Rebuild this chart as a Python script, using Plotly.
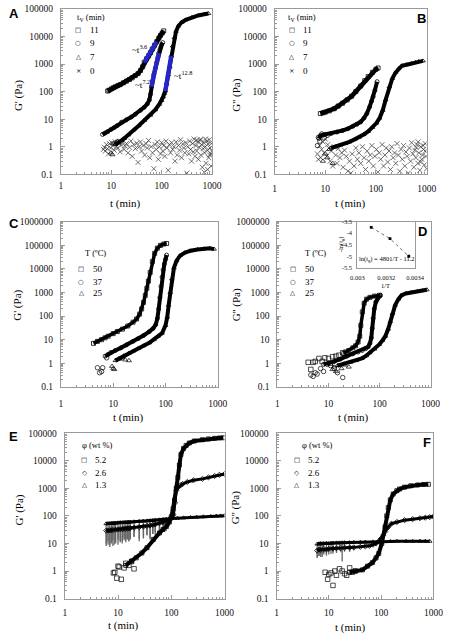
import plotly.graph_objects as go

W, H = 454, 639
SERIF = "Liberation Serif"
SANS = "Liberation Sans"
SYM = "DejaVu Sans"
GRAY = "#9a9a9a"
BLUE = "#2626c8"

# ---------------- tick labels ----------------
x_ticks = [1, 10, 100, 1000]
x_ticklabels = ["1", "10", "100", "1000"]
y_ticks = [0.1, 1, 10, 100, 1000, 10000, 100000, 1000000]
y_ticklabels = ["0.1", "1", "10", "100", "1000", "10000", "100000", "1000000"]

# ---------------- Panel A : G' vs t, tV series ----------------
A_legend = ["11", "9", "7", "0"]
A11_t = [8.5, 9, 10, 11, 12, 13.5, 15, 17.5, 20, 23, 26, 30, 34, 38, 42, 45, 50, 55, 60, 65, 72, 80, 88, 95, 103, 110]
A11_G = [105, 112, 125, 138, 150, 165, 180, 210, 240, 275, 315, 380, 450, 580, 800, 1150, 1550, 2000, 2600, 3500, 4800, 6500, 8800, 11000, 13500, 16000]
A9_t = [6.7, 7.5, 8.5, 10, 11.5, 13, 16, 20, 25, 30, 38, 45, 52, 57, 60, 63, 66, 70, 75, 80, 84, 88, 92, 96, 100, 105]
A9_G = [2.8, 3.1, 3.5, 4.3, 5.0, 5.8, 7.8, 9.5, 12, 15, 21, 27, 36, 50, 80, 150, 250, 420, 700, 1150, 1700, 2500, 3300, 4100, 5000, 6000]
A7_t = [12, 14, 16, 18, 22, 28, 35, 45, 60, 75, 90, 100, 107, 113, 118, 126, 135, 145, 155, 165, 178, 193, 215, 250, 300, 400, 535, 700, 850]
A7_G = [1.2, 1.4, 1.7, 2.0, 2.7, 4.1, 5.8, 9, 14, 22, 35, 48, 64, 85, 105, 200, 400, 800, 2000, 4500, 9000, 15500, 24000, 33000, 40000, 50000, 58000, 64000, 68000]
A7_pts_t = [9.8, 10.5, 11, 12.5, 13.5]
A7_pts_G = [0.6, 0.52, 1.3, 1.5, 1.6]
A0_t = [7, 7.3, 7.6, 8, 8.4, 8.8, 9.2, 9.7, 10.2, 10.8,
        11.4, 12, 12.7, 13.4, 14.2, 15, 16, 17, 18, 19,
        20, 21.5, 23, 24.5, 26, 28, 30, 32, 34, 36,
        38, 40, 43, 46, 49, 52, 55, 58, 62, 66,
        70, 74, 78, 82, 86, 90, 95, 100, 105, 110,
        116, 122, 128, 135, 142, 150, 158, 166, 175, 184,
        194, 204, 215, 226, 238, 250, 262, 275, 288, 302,
        316, 330, 345, 360, 376, 392, 408, 425, 442, 460,
        478, 497, 516, 536, 556, 577, 598, 620, 642, 665,
        688, 712, 736, 760, 785, 810, 836, 862, 889, 916,
        943, 970, 990, 740, 820, 900, 600, 700, 500, 960]
A0_G = [0.8, 0.95, 0.7, 1.2, 0.85, 0.55, 1.3, 0.9, 1.4, 1.1,
        0.75, 1.5, 1.0, 0.9, 1.3, 0.65, 1.15, 1.45, 0.8, 1.05,
        1.3, 0.6, 0.95, 1.6, 0.45, 1.2, 0.85, 1.35, 0.27, 1.0,
        1.5, 0.7, 1.1, 0.5, 1.3, 0.9, 1.7, 0.4, 1.0, 0.6,
        0.16, 1.2, 0.8, 1.5, 0.35, 1.0, 0.55, 1.4, 0.7, 1.1,
        0.45, 1.6, 0.9, 0.14, 1.2, 0.6, 1.4, 0.8, 1.0, 0.3,
        1.5, 0.5, 1.1, 0.75, 1.8, 0.4, 1.25, 0.9, 0.6, 1.4,
        0.11, 1.0, 0.55, 1.6, 0.8, 0.3, 1.3, 0.65, 1.9, 0.45,
        1.1, 0.7, 1.5, 0.35, 0.95, 1.7, 0.5, 1.2, 0.18, 0.85,
        1.4, 0.6, 1.0, 0.25, 1.6, 0.75, 1.25, 0.4, 1.8, 0.9,
        0.55, 1.3, 0.7, 1.9, 0.15, 0.5, 1.85, 0.12, 1.75, 0.2]
A_blue = {"11": (45, 80), "9": (63, 88), "7": (118, 155)}

# ---------------- Panel B : G'' vs t ----------------
B11_t = [8, 9, 10, 12, 15, 18, 22, 27, 33, 40, 50, 60, 70, 85, 100, 110]
B11_G = [16, 17, 18, 20, 24, 30, 38, 50, 68, 100, 160, 250, 350, 500, 650, 720]
B9_t = [7.5, 8, 9, 10, 13, 17, 22, 28, 35, 42, 50, 58, 66, 75, 82, 88, 95, 105]
B9_G = [2.0, 2.5, 2.7, 2.8, 3.0, 3.4, 3.9, 4.5, 5.5, 6.5, 8, 11, 16, 28, 45, 65, 110, 230]
B9_pts_t = [7, 7.3, 7.8, 8.5, 9.5, 11]
B9_pts_G = [1.1, 2.2, 1.6, 2.9, 2.1, 2.6]
B7_t = [13, 16, 20, 25, 30, 38, 46, 57, 70, 85, 102, 118, 136, 155, 183, 210, 245, 285, 325, 400, 500, 600, 700, 850]
B7_G = [0.9, 1.0, 1.15, 1.3, 1.5, 1.85, 2.2, 2.75, 3.6, 5, 7.2, 11, 21, 50, 150, 300, 500, 720, 870, 950, 1050, 1150, 1250, 1300]
B7_pts_t = [9, 10, 11, 12, 14]
B7_pts_G = [0.3, 0.55, 0.4, 0.8, 0.25]
B0_t = [7, 7.3, 7.7, 8.1, 8.5, 9, 9.5, 10, 10.6, 11.2,
        11.8, 12.5, 13.2, 14, 15, 16, 17, 18, 19.5, 21,
        22.5, 24, 26, 28, 30, 32, 34, 37, 40, 43,
        46, 50, 54, 58, 62, 67, 72, 77, 83, 89,
        95, 102, 109, 116, 124, 132, 141, 150, 160, 170,
        181, 193, 205, 218, 232, 246, 261, 277, 294, 312,
        330, 350, 370, 390, 412, 434, 457, 481, 506, 532,
        558, 585, 613, 642, 672, 702, 733, 765, 798, 832,
        866, 900, 935, 970, 995, 620, 680, 760, 850, 940]
B0_G = [0.55, 0.35, 1.1, 0.4, 0.8, 1.5, 0.6, 1.9, 0.45, 1.2,
        0.9, 0.3, 0.7, 0.2, 1.0, 0.5, 0.25, 0.85, 0.4, 0.6,
        0.18, 0.75, 0.45, 0.13, 0.3, 0.11, 0.55, 0.2, 0.9, 0.35,
        0.6, 0.25, 1.0, 0.4, 0.15, 0.7, 0.3, 0.5, 1.1, 0.2,
        0.45, 0.8, 0.12, 0.6, 0.35, 1.2, 0.2, 0.5, 0.9, 0.28,
        0.7, 0.15, 1.0, 0.4, 0.6, 0.25, 1.3, 0.5, 0.13, 0.8,
        0.35, 1.1, 0.2, 0.65, 0.45, 0.11, 0.9, 0.3, 1.4, 0.55,
        0.18, 0.75, 0.4, 1.2, 0.25, 0.6, 0.14, 1.0, 0.35, 0.5,
        0.8, 0.22, 1.3, 0.45, 0.16, 0.95, 1.5, 0.28, 1.1, 0.7]

# ---------------- Panel C : G' vs t, temperature series ----------------
T_legend = ["50", "37", "25"]
C50_t = [4.2, 5, 6, 7, 8, 10, 12, 15, 19, 24, 28, 32, 35, 38, 41, 44, 47, 51, 56, 62, 70, 80, 93, 105]
C50_G = [7, 8.5, 10, 12, 14, 18, 22, 28, 38, 55, 75, 120, 200, 380, 750, 1500, 3000, 7000, 20000, 45000, 75000, 98000, 112000, 118000]
C37_t = [7, 8, 9, 11, 14, 18, 24, 30, 38, 49, 58, 65, 70, 74, 78, 82, 86, 90, 95, 100, 105]
C37_G = [2.0, 2.4, 2.9, 3.5, 4.5, 6, 8.5, 11, 15, 22, 30, 43, 80, 200, 600, 1800, 4500, 9000, 16000, 25000, 38000]
C37_pts_t = [5, 5.5, 6, 6.3, 7.5]
C37_pts_G = [0.65, 0.4, 0.45, 0.65, 1.7]
C25_t = [11, 13, 16, 20, 24, 30, 38, 49, 60, 72, 86, 100, 108, 115, 123, 132, 145, 163, 190, 233, 300, 410, 550, 700, 850]
C25_G = [1.3, 1.6, 2.1, 2.7, 3.3, 4.2, 5.5, 7.4, 10, 14, 19, 40, 90, 290, 1000, 3700, 11000, 22000, 36000, 48000, 58000, 66000, 71000, 74000, 68000]
C25_pts_t = [9.5, 10, 10.5, 13, 15, 17, 20]
C25_pts_G = [0.75, 0.6, 0.55, 1.5, 1.7, 1.4, 1.3]

# ---------------- Panel D : G'' vs t, temperature series ----------------
D50_pts_t = [4, 4.5, 5, 5.5, 6.5, 7.5, 8.5, 10, 12, 14, 16, 19, 22]
D50_pts_G = [1.1, 0.55, 1.1, 1.2, 1.6, 1.2, 1.7, 1.6, 1.9, 2.0, 2.2, 2.8, 3.0]
D50_t = [20, 25, 30, 34, 38, 41, 43, 46, 50, 56, 65, 80, 100]
D50_G = [2.6, 3.5, 4.5, 5.5, 8, 14, 40, 150, 350, 520, 620, 700, 760]
D37_pts_t = [4.5, 5, 5.5, 6, 7, 8, 9.5, 11, 13, 15, 19]
D37_pts_G = [0.32, 0.28, 0.4, 0.35, 0.6, 0.45, 0.9, 0.8, 0.6, 0.4, 0.25]
D37_t = [8, 10, 13, 17, 23, 30, 38, 46, 54, 60, 65, 69, 72, 75, 79, 85, 92, 100, 105]
D37_G = [0.9, 1.0, 1.2, 1.5, 2.0, 2.5, 3.0, 3.5, 4.2, 5, 7, 12, 30, 80, 200, 400, 580, 700, 750]
D25_pts_t = [11, 12, 13, 14, 16, 18, 21, 25]
D25_pts_G = [0.9, 0.55, 0.7, 0.45, 0.8, 0.6, 0.85, 0.7]
D25_t = [15, 20, 27, 35, 45, 55, 64, 80, 99, 115, 130, 148, 163, 180, 203, 235, 271, 330, 420, 550, 700, 850]
D25_G = [0.8, 0.95, 1.1, 1.3, 1.6, 2.1, 2.8, 4.0, 6.3, 9.5, 14, 28, 59, 130, 290, 520, 760, 900, 1000, 1100, 1200, 1300]

# inset of D: -ln(tg) vs 1/T
inset_invT = [0.003096, 0.003226, 0.003356]
inset_neg_ln_tg = [-3.75, -4.24, -5.0]
inset_x_ticks = [0.003, 0.0032, 0.0034]
inset_x_labels = ["0.003", "0.0032", "0.0034"]
inset_y_ticks = [-3.5, -4, -4.5, -5, -5.5]
inset_y_labels = ["-3.5", "-4", "-4.5", "-5", "-5.5"]

# ---------------- Panel E : G' vs t, concentration series ----------------
phi_legend = ["5.2", "2.6", "1.3"]
E52_pts_t = [8.2, 8.7, 9.5, 10, 10.5, 11.5, 13, 14, 16, 18, 20]
E52_pts_G = [0.85, 0.9, 0.55, 1.5, 1.4, 0.5, 1.3, 1.9, 1.6, 2.2, 1.2]
E52_t = [14, 18, 22, 28, 35, 46, 60, 70, 81, 92, 100, 108, 115, 124, 133, 142, 152, 170, 190, 218, 270, 385, 500, 650, 800, 950]
E52_G = [1.6, 2.3, 3.0, 4.5, 7, 14, 24, 32, 41, 60, 93, 180, 370, 1000, 2500, 7000, 17000, 28000, 36000, 44000, 52000, 58000, 62000, 65000, 67000, 68000]
E26_t = [6, 6.5, 7, 7.5, 8, 9, 10, 11, 12, 13, 14, 15, 16, 17, 20, 25, 30, 35, 40, 45, 50, 60, 70, 80, 90, 100, 110, 118, 124, 135, 150, 164, 200, 260, 385, 500, 650, 800, 1000]
E26_G = [29, 29.5, 30, 30, 31, 31.5, 32, 33, 33, 34, 34, 35, 35, 36, 37, 39, 41, 43, 45, 47, 49, 54, 59, 64, 70, 80, 110, 300, 830, 1100, 1300, 1440, 1700, 1950, 2200, 2500, 2800, 3100, 3300]
E26_low = [10, 12, 9, 11, 13, 10, 14, 11, 12, 15, 13, 16, 12, 14, 17, 15, 18, 20, 16, 22, 25, 24, 30, 35, 45] + [None] * 14
E13_t = [6, 6.5, 7, 7.5, 8, 8.5, 9, 10, 11, 12, 13, 14, 15, 16, 17, 20, 25, 30, 35, 40, 45, 50, 60, 70, 80, 90, 100, 130, 170, 230, 300, 400, 550, 700, 850, 1000]
E13_G = [52, 53, 53, 54, 54, 55, 55, 56, 57, 57, 58, 58, 59, 59, 60, 61, 63, 65, 66, 67, 68, 70, 72, 74, 76, 78, 80, 82, 85, 88, 90, 93, 96, 98, 100, 102]
E13_low = [8, 9, 7.5, 10, 8, 9, 11, 9, 12, 10, 13, 11, 14, 12, 15, 18, 12, 15, 20, 14, 22, 18, 25, 30, 28, 40] + [None] * 10

# ---------------- Panel F : G'' vs t, concentration series ----------------
F52_pts_t = [8.5, 9.5, 10, 11, 12, 13, 14, 16, 18, 20, 22, 25, 28, 32]
F52_pts_G = [0.9, 0.5, 0.75, 0.85, 0.3, 1.0, 0.7, 1.2, 1.0, 0.8, 0.7, 1.3, 0.9, 1.0]
F52_t = [25, 32, 44, 55, 68, 80, 90, 103, 119, 128, 137, 150, 170, 200, 225, 280, 370, 500, 650, 800]
F52_G = [0.9, 1.0, 1.1, 1.5, 2.0, 3.0, 4.3, 10, 40, 100, 200, 380, 620, 820, 940, 1100, 1240, 1320, 1380, 1400]
F26_t = [6, 6.5, 7, 8, 9, 10, 12, 14, 17, 20, 25, 30, 40, 50, 60, 70, 80, 90, 100, 110, 120, 135, 157, 200, 280, 400, 550, 700, 850, 1000]
F26_G = [5.5, 6, 5.8, 6.2, 6, 6.4, 6.5, 6.7, 6.8, 7, 7.1, 7.2, 7.5, 7.8, 8.2, 9, 10, 12, 15, 20, 27, 38, 52, 60, 70, 76, 82, 86, 90, 95]
F26_low = [3, 3.5, 3.2, 4, 3.6, 4, 4.2, 4.5, 4.8, 5, 5.2, 5.5] + [None] * 18
F13_t = [6, 6.5, 7, 7.5, 8, 9, 10, 11, 12, 14, 16, 18, 20, 25, 30, 40, 50, 70, 100, 150, 200, 300, 400, 550, 700, 850]
F13_G = [9.5, 9.8, 10, 9.7, 10, 10.2, 10, 10.3, 10.4, 10.5, 10.5, 10.6, 10.7, 10.8, 11, 11, 11.2, 11.4, 11.5, 11.8, 12, 12, 12, 12.1, 12, 12]
F13_low = [3, 3.5, 4, 3.2, 4.5, 4, 5, 4.2, 5, 4.8, 5.5, 2.2, 6, 5] + [None] * 12

# ---------------- figure ----------------
fig = go.Figure()


def xa(n):
    return "x" if n == 1 else f"x{n}"


def ya(n):
    return "y" if n == 1 else f"y{n}"


def band(n, t, G, symbol, width=4.0, color="black", low=None):
    kw = {}
    if low is not None:
        minus = [g - l if l is not None else 0 for g, l in zip(G, low)]
        kw["error_y"] = dict(type="data", symmetric=False, array=[0] * len(G),
                             arrayminus=minus, width=0, thickness=1.3, color="#666")
    fig.add_trace(go.Scatter(
        x=t, y=G, mode="lines+markers", xaxis=xa(n), yaxis=ya(n),
        line=dict(color=color, width=width),
        marker=dict(symbol=symbol, size=4, color=color, line=dict(width=0.8, color=color)),
        showlegend=False, hoverinfo="skip", **kw))


def points(n, t, G, symbol, size=4.5, color="black", lw=0.7):
    fig.add_trace(go.Scatter(
        x=t, y=G, mode="markers", xaxis=xa(n), yaxis=ya(n),
        marker=dict(symbol=symbol, size=size, color=color, line=dict(width=lw, color=color)),
        showlegend=False, hoverinfo="skip"))


def blue_part(n, t, G, rng):
    sel = [(a, b) for a, b in zip(t, G) if rng[0] <= a <= rng[1]]
    fig.add_trace(go.Scatter(
        x=[a for a, _ in sel], y=[b for _, b in sel], mode="lines", xaxis=xa(n), yaxis=ya(n),
        line=dict(color=BLUE, width=4.4), showlegend=False, hoverinfo="skip"))


# A
points(1, A0_t, A0_G, "x-thin", size=5, color="#333")
points(1, A7_pts_t, A7_pts_G, "triangle-up-open")
band(1, A7_t, A7_G, "triangle-up-open")
band(1, A9_t, A9_G, "circle-open")
band(1, A11_t, A11_G, "square-open", width=4.6)
blue_part(1, A11_t, A11_G, A_blue["11"])
blue_part(1, A9_t, A9_G, A_blue["9"])
blue_part(1, A7_t, A7_G, A_blue["7"])
# B
points(2, B0_t, B0_G, "x-thin", size=5, color="#333")
points(2, B7_pts_t, B7_pts_G, "triangle-up-open")
points(2, B9_pts_t, B9_pts_G, "circle-open")
band(2, B7_t, B7_G, "triangle-up-open")
band(2, B9_t, B9_G, "circle-open")
band(2, B11_t, B11_G, "square-open", width=4.6)
# C
points(3, C37_pts_t, C37_pts_G, "circle-open")
points(3, C25_pts_t, C25_pts_G, "triangle-up-open")
band(3, C25_t, C25_G, "triangle-up-open")
band(3, C37_t, C37_G, "circle-open")
band(3, C50_t, C50_G, "square-open", width=3.5)
# D
points(4, D50_pts_t, D50_pts_G, "square-open")
points(4, D37_pts_t, D37_pts_G, "circle-open")
points(4, D25_pts_t, D25_pts_G, "triangle-up-open")
band(4, D25_t, D25_G, "triangle-up-open")
band(4, D37_t, D37_G, "circle-open")
band(4, D50_t, D50_G, "square-open", width=3.5)
# inset
fig.add_trace(go.Scatter(
    x=inset_invT, y=inset_neg_ln_tg, mode="lines+markers", xaxis="x7", yaxis="y7",
    line=dict(color="#444", width=0.8, dash="dot"),
    marker=dict(symbol="square", size=2.8, color="black"),
    showlegend=False, hoverinfo="skip"))
# E
band(5, E13_t, E13_G, "triangle-up-open", width=3, low=E13_low)
band(5, E26_t, E26_G, "diamond-open", width=3, low=E26_low)
points(5, E52_pts_t, E52_pts_G, "square-open")
band(5, E52_t, E52_G, "square-open")
# F
band(6, F13_t, F13_G, "triangle-up-open", width=3, low=F13_low)
band(6, F26_t, F26_G, "diamond-open", width=3, low=F26_low)
points(6, F52_pts_t, F52_pts_G, "square-open")
band(6, F52_t, F52_G, "square-open")

# ---------------- axes ----------------
def dom_x(a, b):
    return [a / W, b / W]


def dom_y(top, bottom):
    return [1 - bottom / H, 1 - top / H]


# (x0, x1, y_top, y_bottom, y max exponent, x tick-label standoff)
panel_boxes = {1: (56, 213, 4, 172, 5, 2), 2: (278, 436, 4, 172, 5, 5),
               3: (56, 219, 220, 388, 6, 8), 4: (281, 440, 220, 388, 6, 8),
               5: (60, 226, 435, 603, 5, 5), 6: (280, 443, 435, 603, 5, 5)}

tickfont = dict(family=SERIF, size=9.5, color="#111")
layout = {}
for n, (x0, x1, y0, y1, ymax, xso) in panel_boxes.items():
    kx = "xaxis" if n == 1 else f"xaxis{n}"
    ky = "yaxis" if n == 1 else f"yaxis{n}"
    common = dict(ticks="inside", ticklen=4, tickcolor=GRAY, linecolor=GRAY, linewidth=1,
                  mirror=True, showgrid=False, zeroline=False, tickfont=tickfont,
                  minor=dict(ticks="inside", ticklen=2, tickcolor=GRAY, dtick="D1", showgrid=False))
    layout[kx] = dict(type="log", range=[0, 3], domain=dom_x(x0, x1), anchor=ya(n),
                      tickmode="array", tickvals=x_ticks, ticktext=x_ticklabels,
                      ticklabelstandoff=xso, **common)
    layout[ky] = dict(type="log", range=[-1, ymax], domain=dom_y(y0, y1), anchor=xa(n),
                      tickmode="array", tickvals=y_ticks, ticktext=y_ticklabels,
                      ticklabelstandoff=5, **common)

inset_font = dict(family=SERIF, size=6.5, color="#111")
layout["xaxis7"] = dict(range=[0.003, 0.0034], domain=dom_x(364, 424), anchor="y7",
                        tickmode="array", tickvals=inset_x_ticks, ticktext=inset_x_labels,
                        ticks="", linecolor=GRAY, linewidth=1, mirror=True, showgrid=False,
                        zeroline=False, tickfont=inset_font, ticklabelstandoff=3)
layout["yaxis7"] = dict(range=[-5.5, -3.5], domain=dom_y(220, 267), anchor="x7",
                        tickmode="array", tickvals=inset_y_ticks, ticktext=inset_y_labels,
                        ticks="", linecolor=GRAY, linewidth=1, mirror=True, showgrid=False,
                        zeroline=False, tickfont=inset_font, ticklabelstandoff=3)

# ---------------- annotations ----------------
anns = []


def ann(text, px, py, size=9, family=SERIF, xanchor="center", yanchor="middle", angle=0, color="black"):
    anns.append(dict(text=text, x=px / W, y=1 - py / H, xref="paper", yref="paper",
                     showarrow=False, xanchor=xanchor, yanchor=yanchor, textangle=angle,
                     font=dict(family=family, size=size, color=color), borderpad=0))


# axis titles
for (txt, px, py) in [("G' (Pa)", 12, 92), ("G'' (Pa)", 238, 92),
                      ("G' (Pa)", 11, 305), ("G'' (Pa)", 238, 305),
                      ("G' (Pa)", 13, 513), ("G'' (Pa)", 237, 511)]:
    ann(txt, px, py, size=11, angle=-90)
for (px, py) in [(123, 202), (357, 202), (126, 419), (360, 419), (121, 630), (357, 632)]:
    ann("t (min)", px, py, size=11)

# panel letters
for (txt, px, py) in [("A", 7, 9), ("B", 431, 14), ("C", 7, 222), ("D", 432, 230), ("E", 7, 438), ("F", 436, 444)]:
    ann("<b>%s</b>" % txt, px, py, size=13, family=SANS)


# in-plot legends
def legend_block(title, labels, syms, x_title, y_title, x_sym, x_txt, ys):
    ann(title, x_title, y_title, size=8.5, xanchor="left")
    for lab, s, yy in zip(labels, syms, ys):
        ann(s, x_sym, yy, size=6.5, family=SYM)
        ann(lab, x_txt, yy, size=9, xanchor="left")


legend_block("t<sub>V</sub> (min)", A_legend, ["□", "○", "△", "×"], 72, 13, 74, 85, [25, 39, 53, 67])
legend_block("t<sub>V</sub> (min)", A_legend, ["□", "○", "△", "×"], 291, 13, 296, 306, [25, 39, 53, 67])
legend_block("T (ºC)", T_legend, ["□", "○", "△"], 80, 252, 77, 88, [268, 281, 293])
legend_block("T (ºC)", T_legend, ["□", "○", "△"], 309, 252, 297, 309, [268, 281, 293])
legend_block("φ (wt %)", phi_legend, ["□", "◇", "△"], 77, 447, 80, 90, [462, 475, 488])
legend_block("φ (wt %)", phi_legend, ["□", "◇", "△"], 305, 447, 301, 312, [462, 475, 488])

# power-law labels in A
ann("~t<sup>3.6</sup>", 146, 45, size=9, xanchor="right")
ann("~t<sup>7.2</sup>", 150, 80, size=9, xanchor="right")
ann("~t<sup>12.8</sup>", 172, 71, size=9, xanchor="left")

# inset texts
ann("ln(t<sub>g</sub>) = 4801/T - 11.2", 395, 258, size=6.5)
ann("-ln(t<sub>g</sub>)", 347, 243, size=6.5, angle=-90)
ann("1/T", 393, 285, size=6.5)

layout["annotations"] = anns
fig.update_layout(width=W, height=H, margin=dict(l=0, r=0, t=0, b=0),
                  paper_bgcolor="white", plot_bgcolor="white", showlegend=False, **layout)

fig.write_html("out.html", include_plotlyjs=True, full_html=True,
               config={"displayModeBar": False},
               post_script="document.body.style.margin='0px';document.body.style.overflow='hidden';")
